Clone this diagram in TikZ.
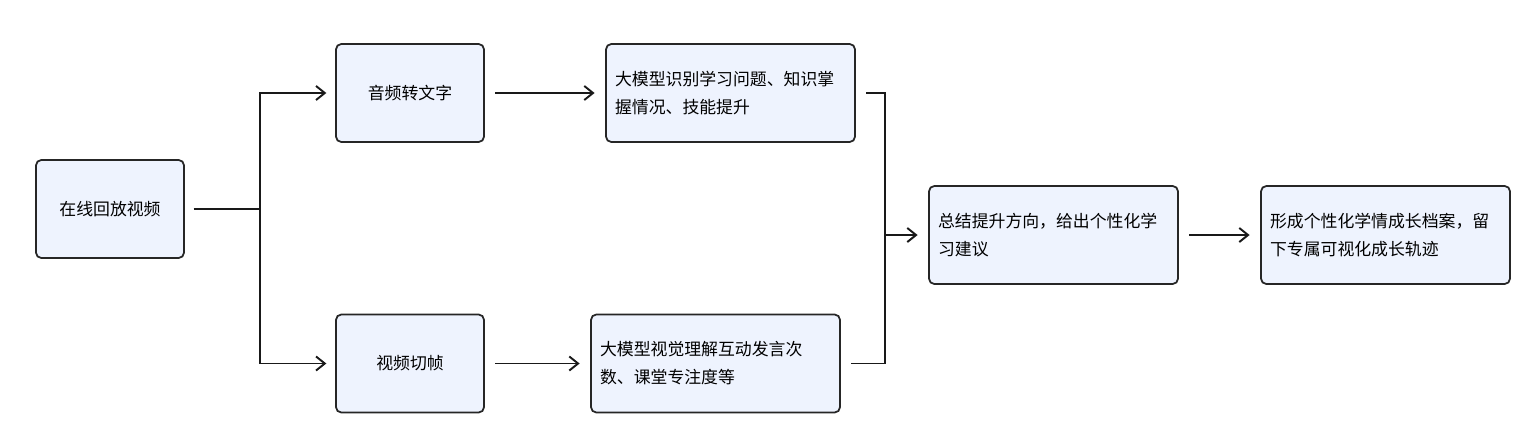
\documentclass[tikz,border=0pt]{standalone}
\usepackage{fontspec}
\setmainfont{Noto Sans CJK SC}
\usetikzlibrary{arrows.meta}
\definecolor{boxfill}{HTML}{EEF3FE}
\begin{document}
\begin{tikzpicture}[x=0.02cm,y=-0.02cm,
  box/.style={draw=black!85,line width=1pt,fill=boxfill,rounded corners=3pt,align=left,font=\fontsize{9.6}{16}\selectfont,inner sep=0pt,minimum height=1.96cm},
  sm/.style={box,minimum width=2.96cm,align=center},
  wd/.style={box,minimum width=4.98cm,text width=4.62cm},
  ln/.style={line width=1pt,black!90},
  ar/.style={ln,-{Straight Barb[length=5pt,width=8pt,line width=1.1pt]}}]
\useasboundingbox (0,0) rectangle (1523,433);
\node[sm] (A) at (110,209) {在线回放视频};
\node[sm] (B) at (410,93) {音频转文字};
\node[wd] (C) at (730.5,93) {大模型识别学习问题、知识掌\\握情况、技能提升};
\node[sm] (D) at (410,363.5) {视频切帧};
\node[wd] (E) at (715.5,363.5) {大模型视觉理解互动发言次\\数、课堂专注度等};
\node[wd] (F) at (1053.5,235) {总结提升方向，给出个性化学\\习建议};
\node[wd] (G) at (1385.5,235) {形成个性化学情成长档案，留\\下专属可视化成长轨迹};
\coordinate (s) at (260,209);
\coordinate (m) at (885,235);
\coordinate (e2) at (885,363.5);
\draw[ln] ([xshift=5]A.east) -- (s);
\draw[ar] (s) |- ([xshift=-5]B.west);
\draw[ar] (s) |- ([xshift=-5]D.west);
\draw[ar] ([xshift=6]B.east) -- ([xshift=-6]C.west);
\draw[ar] ([xshift=6]D.east) -- ([xshift=-6]E.west);
\draw[ln] ([xshift=6]C.east) -| (m);
\draw[ln] ([xshift=6]E.east) -- (e2) -- (m);
\draw[ar] (m) -- ([xshift=-6]F.west);
\draw[ar] ([xshift=6]F.east) -- ([xshift=-6]G.west);
\end{tikzpicture}
\end{document}
